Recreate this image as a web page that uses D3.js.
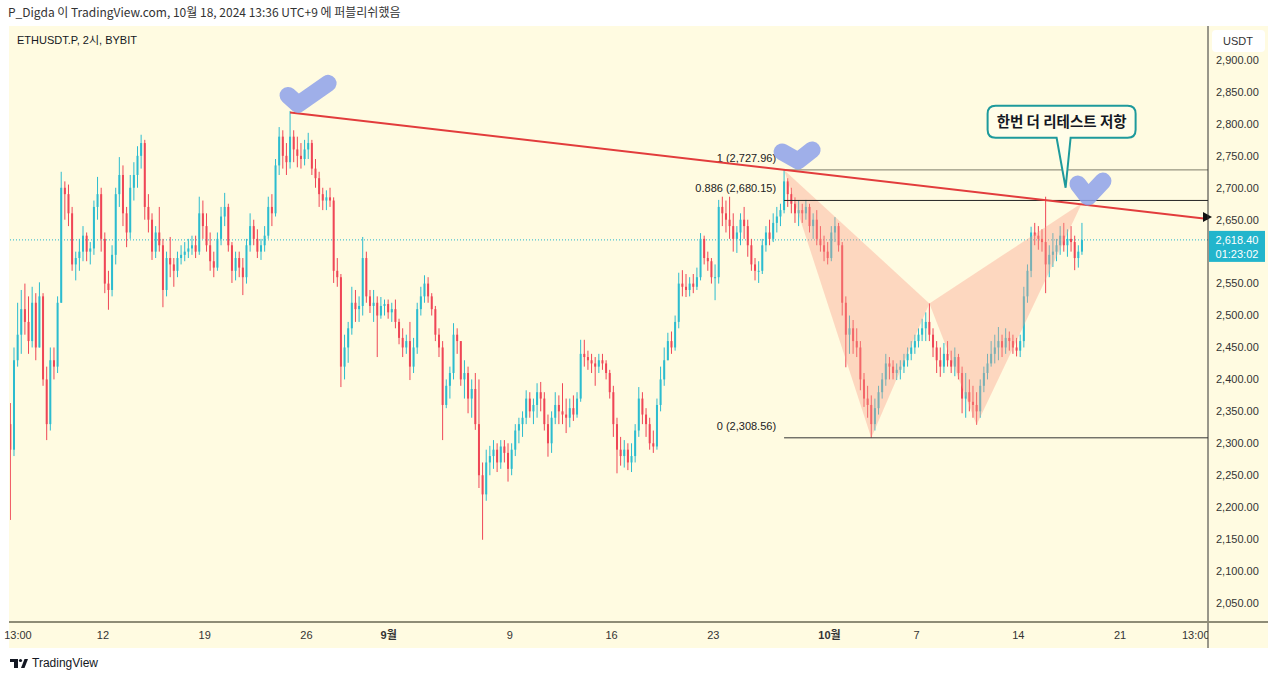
<!DOCTYPE html>
<html>
<head>
<meta charset="utf-8">
<script src="https://cdn.jsdelivr.net/npm/d3@7"></script>
<style>
  body { margin: 0; background: #fff; }
  svg { display: block; font-family: "Liberation Sans", "Noto Sans CJK KR", sans-serif; }
</style>
</head>
<body>
<div id="app"></div>
<script>
// ETHUSDT.P 2h, resampled to 6h candles
const startTime = new Date(2024, 7, 5, 15);
const firstOpen = 2330;

const closes = [
  2290,2430,2470,2510,2490,2460,2520,2450,2530,2400,
  2330,2430,2420,2520,2700,2690,2660,2580,2590,2600,
  2625,2600,2605,2670,2690,2620,2550,2540,2595,2690,
  2720,2660,2630,2700,2720,2750,2770,2670,2650,2600,
  2630,2610,2540,2590,2580,2570,2590,2595,2600,2605,
  2610,2600,2660,2640,2610,2585,2575,2620,2655,2670,
  2610,2570,2590,2575,2560,2610,2640,2620,2600,2610,
  2625,2670,2660,2735,2780,2750,2740,2780,2760,2750,
  2745,2760,2770,2730,2715,2690,2680,2685,2680,2570,
  2560,2420,2450,2480,2520,2510,2515,2590,2530,2515,
  2520,2500,2515,2518,2505,2510,2490,2465,2450,2460,
  2420,2450,2510,2530,2550,2530,2510,2470,2450,2360,
  2390,2410,2470,2460,2400,2410,2370,2385,2330,2250,
  2220,2270,2280,2290,2270,2295,2285,2260,2290,2320,
  2330,2340,2370,2350,2360,2380,2370,2330,2300,2340,
  2360,2350,2345,2340,2355,2345,2370,2440,2435,2430,
  2425,2420,2430,2425,2410,2380,2330,2290,2280,2290,
  2270,2280,2320,2370,2345,2330,2300,2295,2360,2400,
  2430,2460,2450,2490,2550,2545,2540,2550,2545,2560,
  2620,2590,2585,2560,2560,2670,2660,2650,2640,2620,
  2630,2650,2640,2610,2580,2570,2570,2610,2630,2620,
  2645,2655,2665,2710,2690,2675,2660,2665,2660,2670,
  2640,2650,2620,2610,2600,2590,2630,2640,2610,2520,
  2470,2480,2460,2450,2400,2370,2360,2330,2355,2380,
  2400,2425,2420,2410,2415,2420,2430,2440,2450,2460,
  2470,2480,2490,2470,2450,2430,2420,2440,2430,2420,
  2435,2410,2370,2380,2365,2360,2350,2390,2410,2425,
  2440,2450,2460,2450,2465,2460,2450,2445,2460,2530,
  2570,2630,2625,2620,2615,2580,2595,2600,2610,2625,
  2610,2620,2615,2590,2600,2618.4
];

const highs = [
  2363,2450,2520,2540,2550,2530,2545,2535,2552,2535,
  2420,2450,2450,2530,2725,2710,2705,2670,2600,2620,
  2640,2630,2615,2680,2717,2700,2630,2570,2610,2700,
  2748,2735,2670,2720,2740,2765,2783,2775,2690,2660,
  2640,2670,2620,2600,2623,2590,2600,2610,2615,2620,
  2625,2625,2686,2680,2660,2630,2600,2630,2670,2692,
  2675,2615,2600,2600,2590,2620,2660,2650,2635,2620,
  2640,2686,2690,2745,2795,2790,2770,2820,2790,2780,
  2770,2775,2786,2775,2745,2725,2700,2696,2700,2685,
  2590,2565,2470,2490,2545,2540,2530,2623,2600,2540,
  2540,2530,2529,2525,2525,2520,2525,2495,2480,2470,
  2490,2465,2520,2545,2563,2560,2535,2515,2480,2460,
  2400,2420,2488,2480,2460,2430,2420,2400,2410,2400,
  2270,2290,2296,2305,2300,2305,2305,2300,2300,2330,
  2340,2350,2383,2380,2370,2394,2396,2380,2345,2350,
  2380,2375,2394,2370,2370,2375,2380,2462,2462,2445,
  2440,2435,2440,2440,2430,2415,2390,2340,2310,2305,
  2300,2300,2330,2388,2380,2355,2340,2320,2370,2420,
  2450,2473,2475,2500,2567,2571,2565,2560,2565,2575,
  2629,2625,2600,2590,2580,2681,2686,2680,2686,2660,
  2640,2660,2670,2650,2620,2590,2585,2620,2640,2650,
  2660,2670,2675,2728,2715,2700,2685,2680,2675,2681,
  2675,2660,2665,2640,2625,2615,2640,2654,2645,2615,
  2530,2500,2493,2480,2460,2410,2390,2375,2370,2390,
  2410,2440,2435,2430,2425,2430,2440,2450,2460,2470,
  2480,2495,2505,2519,2480,2460,2450,2457,2460,2445,
  2450,2440,2420,2410,2400,2390,2380,2400,2420,2440,
  2460,2470,2482,2470,2480,2475,2470,2465,2470,2545,
  2580,2639,2645,2640,2635,2686,2610,2629,2620,2640,
  2645,2635,2640,2625,2610,2645
];

const lows = [
  2180,2280,2420,2440,2470,2440,2450,2430,2460,2390,
  2305,2320,2400,2410,2520,2650,2640,2570,2555,2570,
  2585,2585,2580,2595,2650,2600,2535,2509,2530,2580,
  2670,2640,2607,2620,2680,2700,2730,2650,2630,2587,
  2590,2600,2513,2530,2560,2545,2560,2580,2585,2590,
  2595,2590,2595,2620,2600,2570,2560,2570,2610,2640,
  2600,2551,2555,2560,2532,2550,2600,2610,2590,2587,
  2600,2620,2640,2655,2720,2730,2720,2730,2740,2732,
  2730,2735,2745,2720,2700,2670,2665,2665,2670,2551,
  2545,2388,2400,2426,2470,2490,2490,2500,2520,2504,
  2490,2435,2495,2500,2495,2490,2480,2455,2435,2440,
  2399,2410,2440,2500,2520,2520,2500,2460,2435,2305,
  2355,2370,2400,2440,2390,2370,2347,2340,2321,2230,
  2149,2210,2250,2260,2255,2260,2270,2240,2250,2280,
  2300,2310,2330,2340,2330,2340,2350,2320,2279,2285,
  2330,2330,2330,2316,2325,2335,2340,2365,2420,2415,
  2410,2390,2410,2415,2400,2370,2310,2253,2265,2262,
  2258,2255,2270,2310,2330,2310,2290,2285,2290,2350,
  2390,2430,2440,2445,2480,2530,2529,2530,2535,2540,
  2555,2580,2570,2550,2524,2550,2640,2630,2620,2600,
  2598,2610,2620,2592,2570,2555,2551,2565,2600,2610,
  2615,2630,2640,2660,2670,2660,2645,2640,2645,2650,
  2630,2620,2610,2600,2585,2580,2585,2615,2600,2500,
  2419,2440,2440,2435,2383,2357,2340,2309,2320,2345,
  2370,2390,2400,2400,2399,2400,2410,2420,2430,2440,
  2450,2460,2460,2460,2435,2410,2404,2410,2420,2410,
  2405,2400,2347,2340,2350,2340,2329,2340,2380,2400,
  2420,2425,2430,2435,2440,2445,2440,2436,2435,2450,
  2520,2560,2610,2603,2600,2535,2560,2576,2585,2595,
  2600,2592,2600,2571,2575,2595
];

const lastPrice = 2618.40;
const countdown = "01:23:02";

const priceTicks = d3.range(2050, 2901, 50);
const tickDates = ["2024-08-06 03:30", "2024-08-12 00:00", "2024-08-19 00:00", "2024-08-26 00:00",
  "2024-08-31 16:00", "2024-09-09 00:00", "2024-09-16 00:00", "2024-09-23 00:00",
  "2024-10-01 00:00", "2024-10-07 00:00", "2024-10-14 00:00", "2024-10-21 00:00", "2024-10-26 05:00"];
const tickLabels = ["13:00", "12", "19", "26", "9월", "9", "16", "23", "10월", "7", "14", "21", "13:00"];
const boldTicks = ["9월", "10월"];

// drawings
const trendDates = ["2024-08-24 21:00", "2024-10-27 01:12"];
const trendPrices = [2818, 2651];
const fibLevels = ["1", "0.886", "0"];
const fibPrices = [2727.96, 2680.15, 2308.56];
const patternDates = ["2024-09-27 21:00", "2024-10-03 21:00", "2024-10-07 21:00", "2024-10-11 03:00", "2024-10-18 09:00"];
const patternPrices = [2727.96, 2308.56, 2519, 2329, 2676];
const calloutDate = "2024-10-17 06:00";
const calloutPrice = 2700;
const calloutText = "한번 더 리테스트 저항";

const W = 1280, H = 681;
const plot = { left: 10, right: 1208, top: 26, bottom: 621 };
const parse = d3.timeParse("%Y-%m-%d %H:%M");

const x = d3.scaleTime()
  .domain([new Date(2024, 7, 5, 14, 24), new Date(2024, 9, 27, 1, 12)])
  .range([plot.left, plot.right]);

const y = d3.scaleLinear()
  .domain([2050, 2900])
  .range([603, 60]);

const candles = closes.map((c, i) => {
  const o = i === 0 ? firstOpen : closes[i - 1];
  return { t: d3.timeHour.offset(startTime, 6 * i), o: o, h: highs[i], l: lows[i], c: c };
});

const svg = d3.select('#app').append('svg')
  .attr('width', W)
  .attr('height', H);

svg.append('rect').attr('width', W).attr('height', H).attr('fill', '#fff');

//////////CHART PANEL//////////
svg.append('rect')
  .attr('x', 9).attr('y', plot.top)
  .attr('width', 1259).attr('height', 622)
  .attr('fill', '#fffbe1');

svg.append('defs').append('clipPath').attr('id', 'plotClip')
  .append('rect')
  .attr('x', plot.left).attr('y', plot.top)
  .attr('width', plot.right - plot.left).attr('height', plot.bottom - plot.top);

const chart = svg.append('g').attr('clip-path', 'url(#plotClip)');

// last price dotted line
chart.append('line')
  .attr('x1', plot.left).attr('x2', plot.right)
  .attr('y1', y(lastPrice)).attr('y2', y(lastPrice))
  .attr('stroke', '#22b5cc')
  .attr('stroke-dasharray', '1 2');

//////////CANDLES//////////
const upColor = '#2cbccf';
const downColor = '#ef4656';

const candle = chart.append('g').selectAll('g')
  .data(candles)
  .join('g')
  .attr('stroke', d => d.c >= d.o ? upColor : downColor)
  .attr('fill', d => d.c >= d.o ? upColor : downColor);

candle.append('line')
  .attr('x1', d => x(d.t)).attr('x2', d => x(d.t))
  .attr('y1', d => y(Math.max(d.h, d.o, d.c)))
  .attr('y2', d => y(Math.min(d.l, d.o, d.c)))
  .attr('stroke-width', 1);

candle.append('rect')
  .attr('stroke', 'none')
  .attr('x', d => x(d.t) - 1)
  .attr('width', 2)
  .attr('y', d => y(Math.max(d.o, d.c)))
  .attr('height', d => Math.max(1, Math.abs(y(d.o) - y(d.c))));

//////////HARMONIC PATTERN//////////
const pts = patternDates.map((d, i) => [x(parse(d)), y(patternPrices[i])]);

chart.append('path')
  .attr('d', d3.line()([pts[0], pts[1], pts[2]]) + 'Z')
  .attr('fill', '#fa9f8a')
  .attr('fill-opacity', 0.38);

chart.append('path')
  .attr('d', d3.line()([pts[2], pts[3], pts[4]]) + 'Z')
  .attr('fill', '#fa9f8a')
  .attr('fill-opacity', 0.38);

//////////FIB LEVELS//////////
const fibStart = x(parse(patternDates[0]));
const fibColors = ['#7d7c6a', '#222', '#333'];

fibPrices.forEach((p, i) => {
  chart.append('line')
    .attr('x1', fibStart).attr('x2', plot.right)
    .attr('y1', y(p)).attr('y2', y(p))
    .attr('stroke', fibColors[i])
    .attr('stroke-width', 1);

  chart.append('text')
    .attr('x', fibStart - 8)
    .attr('y', y(p) - 8)
    .attr('text-anchor', 'end')
    .attr('font-size', 11)
    .attr('fill', '#222')
    .text(fibLevels[i] + ' (' + d3.format(',.2f')(p) + ')');
});

//////////TREND LINE//////////
const tl = trendDates.map((d, i) => [x(parse(d)), y(trendPrices[i])]);

svg.append('path')
  .attr('d', d3.line()(tl))
  .attr('stroke', '#e23c3c')
  .attr('stroke-width', 2)
  .attr('fill', 'none');

svg.append('path')
  .attr('d', `M${plot.right - 5},${tl[1][1] - 7}L${plot.right + 4},${tl[1][1] - 2}L${plot.right - 5},${tl[1][1] + 3}Z`)
  .attr('fill', '#111');

//////////CHECK MARKS//////////
const peak = [x(parse(trendDates[0])), y(trendPrices[0])];
const marks = [
  { at: peak, p: [[-2, -17], [8, -8], [38, -29]] },
  { at: pts[0], p: [[-2, -18], [14, -9], [28, -20]] },
  { at: pts[4], p: [[-4, -19], [6, -6], [21, -22]] }
];

svg.append('g').selectAll('path')
  .data(marks)
  .join('path')
  .attr('d', m => d3.line()(m.p.map(q => [m.at[0] + q[0], m.at[1] + q[1]])))
  .attr('fill', 'none')
  .attr('stroke', '#8ea1ea')
  .attr('stroke-opacity', 0.85)
  .attr('stroke-width', 17)
  .attr('stroke-linecap', 'round')
  .attr('stroke-linejoin', 'round');

//////////CALLOUT//////////
const tx = x(parse(calloutDate)), ty = y(calloutPrice);
const bx0 = tx - 78, bx1 = tx + 70, by0 = ty - 82, by1 = ty - 50, r = 8;

svg.append('path')
  .attr('d', `M${bx0 + r},${by0}H${bx1 - r}Q${bx1},${by0} ${bx1},${by0 + r}V${by1 - r}Q${bx1},${by1} ${bx1 - r},${by1}` +
    `H${tx + 5}L${tx},${ty}L${tx - 9},${by1}H${bx0 + r}Q${bx0},${by1} ${bx0},${by1 - r}V${by0 + r}Q${bx0},${by0} ${bx0 + r},${by0}Z`)
  .attr('fill', '#fffde9')
  .attr('stroke', '#1e9a9c')
  .attr('stroke-width', 2);

svg.append('text')
  .attr('x', (bx0 + bx1) / 2)
  .attr('y', (by0 + by1) / 2 + 5)
  .attr('text-anchor', 'middle')
  .attr('font-family', '"Noto Sans CJK KR", sans-serif')
  .attr('font-weight', 'bold')
  .attr('font-size', 14.5)
  .attr('fill', '#131722')
  .text(calloutText);

//////////AXES//////////
svg.append('line')
  .attr('x1', plot.right).attr('x2', plot.right)
  .attr('y1', plot.top).attr('y2', 648)
  .attr('stroke', '#333');

svg.append('line')
  .attr('x1', 9).attr('x2', 1268)
  .attr('y1', 622).attr('y2', 622)
  .attr('stroke', '#8e8c76')
  .attr('stroke-width', 2);

svg.append('g').selectAll('text')
  .data(priceTicks)
  .join('text')
  .attr('x', 1216)
  .attr('y', d => y(d))
  .attr('dy', '0.35em')
  .attr('font-size', 11)
  .attr('fill', '#333')
  .text(d => d3.format(',.2f')(d));

svg.append('defs').append('clipPath').attr('id', 'xClip')
  .append('rect').attr('x', 0).attr('y', 622).attr('width', plot.right).attr('height', 30);

svg.append('g').attr('clip-path', 'url(#xClip)').selectAll('text')
  .data(tickDates)
  .join('text')
  .attr('x', d => x(parse(d)))
  .attr('y', 635)
  .attr('dy', '0.35em')
  .attr('text-anchor', 'middle')
  .attr('font-size', 11)
  .attr('font-weight', (d, i) => boldTicks.includes(tickLabels[i]) ? 'bold' : 'normal')
  .attr('font-family', '"Liberation Sans", "Noto Sans CJK KR", sans-serif')
  .attr('fill', '#333')
  .text((d, i) => tickLabels[i]);

// USDT box
svg.append('rect')
  .attr('x', 1212).attr('y', 30).attr('width', 53).attr('height', 22).attr('rx', 4)
  .attr('fill', '#fff');
svg.append('text')
  .attr('x', 1238).attr('y', 41).attr('dy', '0.35em')
  .attr('text-anchor', 'middle').attr('font-size', 11).attr('fill', '#333')
  .text('USDT');

// last price label
const ly = y(lastPrice);
svg.append('rect')
  .attr('x', 1209).attr('y', ly - 9).attr('width', 56).attr('height', 31)
  .attr('fill', '#22b5cc');
svg.append('text')
  .attr('x', 1237).attr('y', ly).attr('dy', '0.35em')
  .attr('text-anchor', 'middle').attr('font-size', 11).attr('fill', '#fff')
  .text(d3.format(',.2f')(lastPrice));
svg.append('text')
  .attr('x', 1237).attr('y', ly + 14).attr('dy', '0.35em')
  .attr('text-anchor', 'middle').attr('font-size', 11).attr('fill', '#fff')
  .text(countdown);

//////////TEXTS//////////
svg.append('text')
  .attr('x', 8).attr('y', 13).attr('dy', '0.35em')
  .attr('font-family', '"Noto Sans CJK KR", sans-serif')
  .attr('font-size', 12).attr('fill', '#333')
  .text('P_Digda 이 TradingView.com, 10월 18, 2024 13:36 UTC+9 에 퍼블리쉬했음');

svg.append('text')
  .attr('x', 17).attr('y', 40).attr('dy', '0.35em')
  .attr('font-family', '"Liberation Sans", "Noto Sans CJK KR", sans-serif')
  .attr('font-size', 11).attr('fill', '#131722')
  .text('ETHUSDT.P, 2시, BYBIT');

// TradingView footer
const logo = svg.append('g').attr('fill', '#131722');
logo.append('rect').attr('x', 10).attr('y', 659).attr('width', 8).attr('height', 3);
logo.append('rect').attr('x', 14).attr('y', 659).attr('width', 4).attr('height', 9);
logo.append('circle').attr('cx', 20.5).attr('cy', 660.5).attr('r', 1.6);
logo.append('path').attr('d', 'M21,668L24.5,659L28,659L24.5,668Z');
svg.append('text')
  .attr('x', 32).attr('y', 663).attr('dy', '0.35em')
  .attr('font-size', 12).attr('fill', '#131722')
  .text('TradingView');
</script>
</body>
</html>
